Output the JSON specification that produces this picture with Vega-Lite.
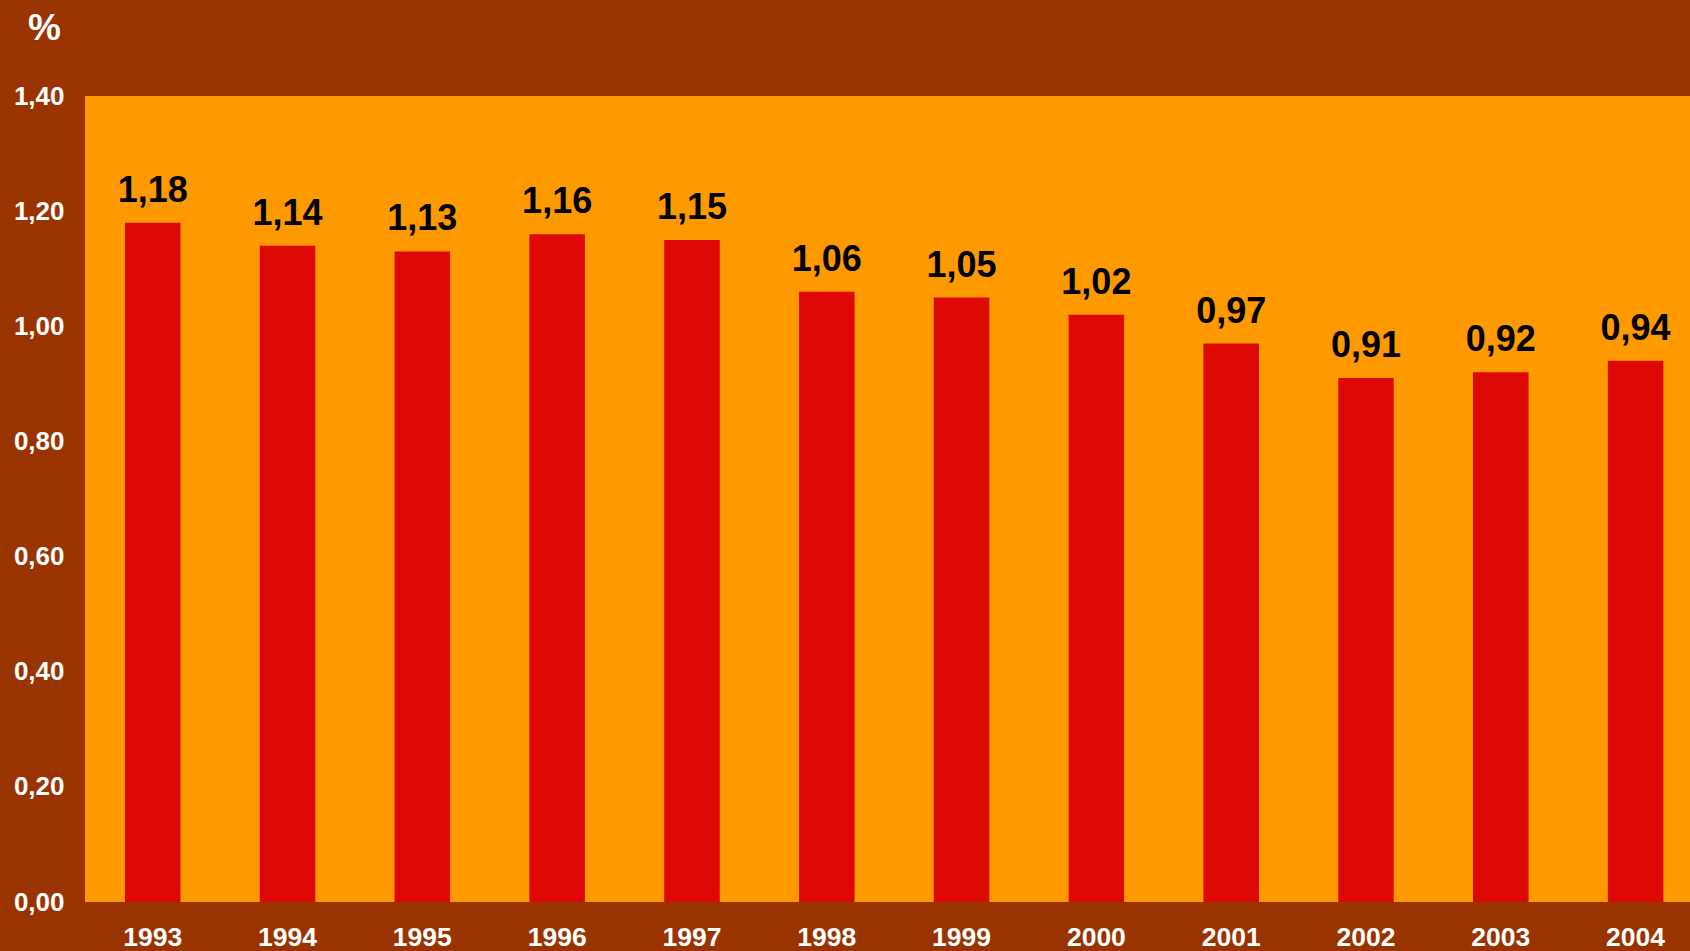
{
  "$schema": "https://vega.github.io/schema/vega-lite/v6.json",
  "autosize": {"type": "none"},
  "width": 1605,
  "height": 806,
  "padding": {"left": 85, "top": 96, "right": 0, "bottom": 49},
  "background": "#993300",
  "config": {
    "locale": {"number": {"decimal": ",", "thousands": ".", "grouping": [3], "currency": ["", " €"]}},
    "view": {"fill": "#FF9900", "stroke": null},
    "font": "Liberation Sans"
  },
  "data": {
    "values": [
      {"year": "1993", "value": 1.18},
      {"year": "1994", "value": 1.14},
      {"year": "1995", "value": 1.13},
      {"year": "1996", "value": 1.16},
      {"year": "1997", "value": 1.15},
      {"year": "1998", "value": 1.06},
      {"year": "1999", "value": 1.05},
      {"year": "2000", "value": 1.02},
      {"year": "2001", "value": 0.97},
      {"year": "2002", "value": 0.91},
      {"year": "2003", "value": 0.92},
      {"year": "2004", "value": 0.94}
    ]
  },
  "encoding": {
    "x": {
      "field": "year", "type": "ordinal",
      "scale": {"paddingInner": 0.588, "paddingOuter": 0.247, "align": 0.6, "round": false},
      "axis": {
        "title": null, "labelAngle": 0, "ticks": false, "domain": false,
        "labelColor": "#FFFFFF", "labelFontSize": 26.5, "labelFontWeight": "bold",
        "labelPadding": 22, "labelBaseline": "top"
      }
    },
    "y": {
      "field": "value", "type": "quantitative",
      "scale": {"domain": [0, 1.4], "nice": false},
      "axis": {
        "values": [0, 0.2, 0.4, 0.6, 0.8, 1.0, 1.2, 1.4],
        "format": ".2f", "grid": false, "ticks": false, "domain": false,
        "labelColor": "#FFFFFF", "labelFontSize": 26, "labelFontWeight": "bold",
        "labelPadding": 21,
        "title": "%", "titleAngle": 0, "titleColor": "#FFFFFF", "titleFontSize": 37,
        "titleFontWeight": "bold", "titleX": -41, "titleY": -68,
        "titleAlign": "center", "titleBaseline": "middle"
      }
    }
  },
  "layer": [
    {"mark": {"type": "bar", "color": "#DD0806"}},
    {
      "mark": {"type": "text", "baseline": "alphabetic", "dy": -21, "fontSize": 36, "fontWeight": "bold", "color": "#000000"},
      "encoding": {"text": {"field": "value", "type": "quantitative", "format": ".2f"}}
    }
  ]
}
